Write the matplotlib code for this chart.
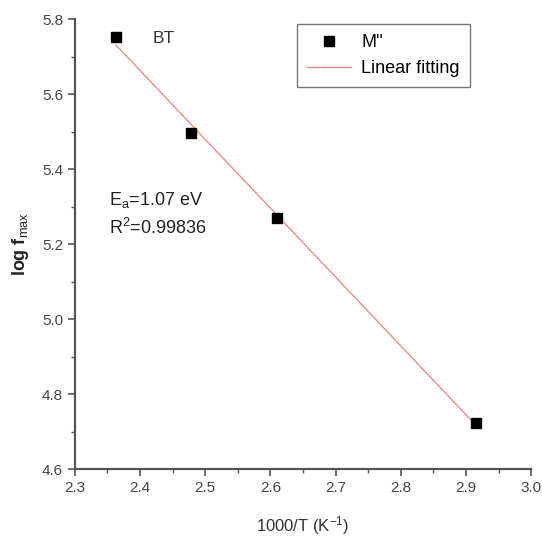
import numpy as np
import matplotlib
matplotlib.use('Agg')
import matplotlib.pyplot as plt
from matplotlib.ticker import MultipleLocator

plt.rcParams['font.family'] = ['Liberation Sans', 'DejaVu Sans']
plt.rcParams['mathtext.fontset'] = 'custom'
plt.rcParams['mathtext.rm'] = 'Liberation Sans'
plt.rcParams['mathtext.it'] = 'Liberation Sans'

# data
inv_T = [2.363, 2.479, 2.610, 2.916]
log_fmax = [5.753, 5.497, 5.271, 4.724]
x_lim = (2.3, 3.0)
y_lim = (4.6, 5.8)

fig = plt.figure(figsize=(5.42, 5.46), dpi=100)
ax = fig.add_axes([0.138, 0.1405, 0.842, 0.824])

# linear fit
k, b = np.polyfit(inv_T, log_fmax, 1)
xf = np.array([min(inv_T), max(inv_T)])
ax.plot(xf, k * xf + b, color='#f08080', lw=0.9, label='Linear fitting', zorder=2)
ax.plot(inv_T, log_fmax, 's', color='black', ms=7, ls='none', label="M''", zorder=3)

ax.set_xlim(*x_lim)
ax.set_ylim(*y_lim)
ax.xaxis.set_major_locator(MultipleLocator(0.1))
ax.xaxis.set_minor_locator(MultipleLocator(0.05))
ax.yaxis.set_major_locator(MultipleLocator(0.2))
ax.yaxis.set_minor_locator(MultipleLocator(0.1))
ax.xaxis.set_major_formatter(plt.FormatStrFormatter('%.1f'))
ax.yaxis.set_major_formatter(plt.FormatStrFormatter('%.1f'))

for s in ['top', 'right']:
    ax.spines[s].set_visible(False)
for s in ['left', 'bottom']:
    ax.spines[s].set_color('#555555')
    ax.spines[s].set_linewidth(1.6)
ax.tick_params(which='major', direction='out', length=5, width=1.2, color='#555555',
               labelsize=11, labelcolor='#444444')
ax.tick_params(which='minor', direction='out', length=3, width=1.0, color='#555555')

ax.set_xlabel('1000/T (K$^{-1}$)', fontsize=12, color='#333333', labelpad=14)
ax.set_ylabel('log f$_{max}$', fontsize=13, fontweight='bold', color='#222222', labelpad=8)

ax.text(2.42, 5.75, 'BT', fontsize=12.5, color='#333333', va='center')
ax.text(2.352, 5.318, 'E$_a$=1.07 eV', fontsize=13, color='#222222', va='center')
ax.text(2.352, 5.243, 'R$^2$=0.99836', fontsize=13, color='#222222', va='center')

h, l = ax.get_legend_handles_labels()
leg = ax.legend(h[::-1], l[::-1], loc='upper left', bbox_to_anchor=(0.468, 1.01),
                fontsize=13, frameon=True, fancybox=False, borderpad=0.55,
                handlelength=2.4, labelspacing=0.5, handletextpad=0.6)
leg.get_frame().set_edgecolor('#555555')
leg.get_frame().set_linewidth(1.0)

fig.savefig('out.png', dpi=100)
